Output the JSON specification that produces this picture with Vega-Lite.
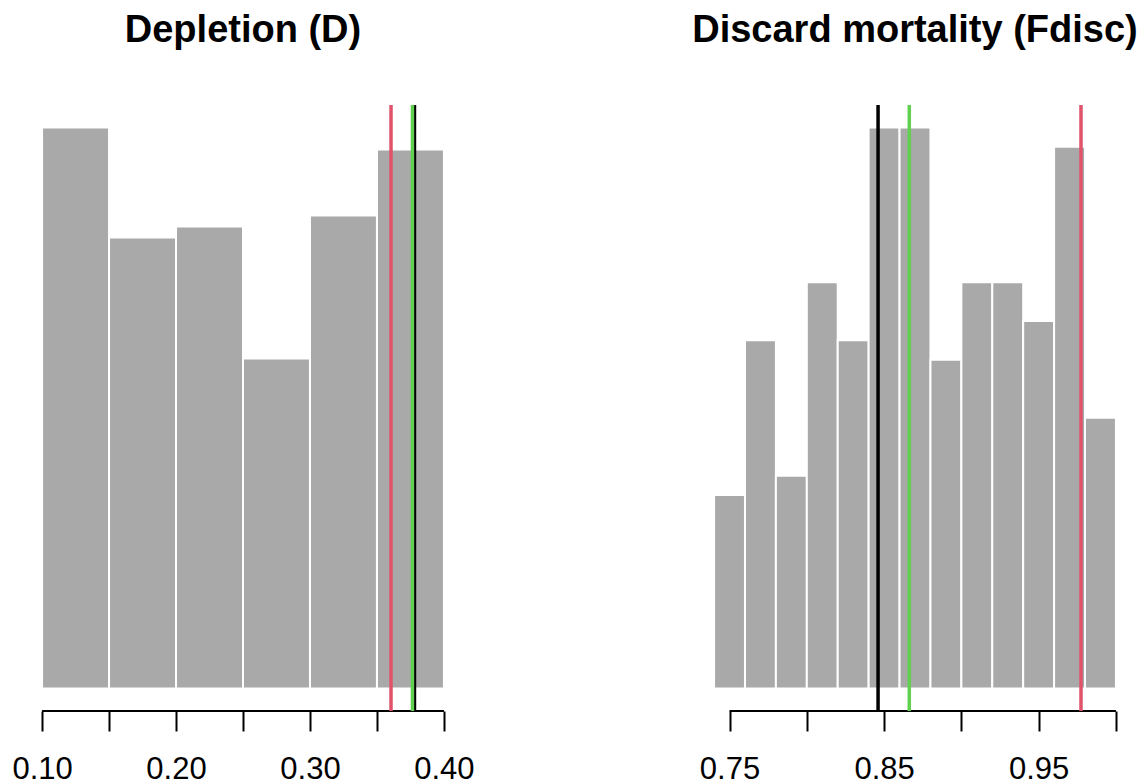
{
  "$schema": "https://vega.github.io/schema/vega-lite/v6.json",
  "background": "white",
  "padding": {"left": 11, "top": 12, "right": 0, "bottom": 0},
  "datasets": {
    "depletion_bins": [
      {"bin_start": 0.10, "bin_end": 0.15, "count": 51},
      {"bin_start": 0.15, "bin_end": 0.20, "count": 41},
      {"bin_start": 0.20, "bin_end": 0.25, "count": 42},
      {"bin_start": 0.25, "bin_end": 0.30, "count": 30},
      {"bin_start": 0.30, "bin_end": 0.35, "count": 43},
      {"bin_start": 0.35, "bin_end": 0.40, "count": 49}
    ],
    "depletion_lines": [
      {"value": 0.378, "series": "true"},
      {"value": 0.3605, "series": "estimate"},
      {"value": 0.3765, "series": "prior"}
    ],
    "depletion_axis": [{"first_tick": 0.10, "last_tick": 0.40}],
    "fdisc_bins": [
      {"bin_start": 0.74, "bin_end": 0.76, "count": 10},
      {"bin_start": 0.76, "bin_end": 0.78, "count": 18},
      {"bin_start": 0.78, "bin_end": 0.80, "count": 11},
      {"bin_start": 0.80, "bin_end": 0.82, "count": 21},
      {"bin_start": 0.82, "bin_end": 0.84, "count": 18},
      {"bin_start": 0.84, "bin_end": 0.86, "count": 29},
      {"bin_start": 0.86, "bin_end": 0.88, "count": 29},
      {"bin_start": 0.88, "bin_end": 0.90, "count": 17},
      {"bin_start": 0.90, "bin_end": 0.92, "count": 21},
      {"bin_start": 0.92, "bin_end": 0.94, "count": 21},
      {"bin_start": 0.94, "bin_end": 0.96, "count": 19},
      {"bin_start": 0.96, "bin_end": 0.98, "count": 28},
      {"bin_start": 0.98, "bin_end": 1.00, "count": 14}
    ],
    "fdisc_lines": [
      {"value": 0.8461, "series": "true"},
      {"value": 0.9774, "series": "estimate"},
      {"value": 0.8663, "series": "prior"}
    ],
    "fdisc_axis": [{"first_tick": 0.75, "last_tick": 1.00}]
  },
  "hconcat": [
    {
      "width": 434,
      "height": 606,
      "title": {"text": "Depletion (D)"},
      "layer": [
        {
          "data": {"name": "depletion_bins"},
          "mark": {"type": "bar", "fill": "#A9A9A9", "stroke": "white", "strokeWidth": 2},
          "encoding": {
            "x": {
              "field": "bin_start",
              "type": "quantitative",
              "scale": {"domain": [0.088, 0.412], "nice": false, "zero": false},
              "axis": {
                "values": [0.10, 0.15, 0.20, 0.25, 0.30, 0.35, 0.40],
                "labelExpr": "round(datum.value * 100) % 10 == 0 ? format(datum.value, '.2f') : ''"
              }
            },
            "x2": {"field": "bin_end"},
            "y": {
              "field": "count",
              "type": "quantitative",
              "scale": {"domain": [-2.04, 53.04], "nice": false, "zero": false},
              "axis": null
            },
            "y2": {"datum": 0}
          }
        },
        {
          "data": {"name": "depletion_axis"},
          "mark": {"type": "rule", "color": "black", "strokeWidth": 2},
          "encoding": {
            "x": {"field": "first_tick", "type": "quantitative"},
            "x2": {"field": "last_tick"},
            "y": {"datum": -2.04, "type": "quantitative"}
          }
        },
        {
          "data": {"name": "depletion_lines"},
          "mark": {"type": "rule", "strokeWidth": 3.5},
          "encoding": {
            "x": {"field": "value", "type": "quantitative"},
            "color": {
              "field": "series",
              "type": "nominal",
              "scale": {"domain": ["true", "estimate", "prior"], "range": ["#000000", "#DF536B", "#61D04F"]},
              "legend": null
            }
          }
        }
      ]
    },
    {
      "width": 434,
      "height": 606,
      "title": {"text": "Discard mortality (Fdisc)"},
      "layer": [
        {
          "data": {"name": "fdisc_bins"},
          "mark": {"type": "bar", "fill": "#A9A9A9", "stroke": "white", "strokeWidth": 2},
          "encoding": {
            "x": {
              "field": "bin_start",
              "type": "quantitative",
              "scale": {"domain": [0.7296, 1.0104], "nice": false, "zero": false},
              "axis": {
                "values": [0.75, 0.80, 0.85, 0.90, 0.95, 1.00],
                "labelExpr": "round(datum.value * 100) % 10 == 5 ? format(datum.value, '.2f') : ''"
              }
            },
            "x2": {"field": "bin_end"},
            "y": {
              "field": "count",
              "type": "quantitative",
              "scale": {"domain": [-1.16, 30.16], "nice": false, "zero": false},
              "axis": null
            },
            "y2": {"datum": 0}
          }
        },
        {
          "data": {"name": "fdisc_axis"},
          "mark": {"type": "rule", "color": "black", "strokeWidth": 2},
          "encoding": {
            "x": {"field": "first_tick", "type": "quantitative"},
            "x2": {"field": "last_tick"},
            "y": {"datum": -1.16, "type": "quantitative"}
          }
        },
        {
          "data": {"name": "fdisc_lines"},
          "mark": {"type": "rule", "strokeWidth": 3.5},
          "encoding": {
            "x": {"field": "value", "type": "quantitative"},
            "color": {
              "field": "series",
              "type": "nominal",
              "scale": {"domain": ["true", "estimate", "prior"], "range": ["#000000", "#DF536B", "#61D04F"]},
              "legend": null
            }
          }
        }
      ]
    }
  ],
  "spacing": 238,
  "bounds": "flush",
  "resolve": {"scale": {"x": "independent", "y": "independent"}},
  "config": {
    "font": "Liberation Sans",
    "view": {"stroke": null},
    "title": {
      "font": "Liberation Sans",
      "fontSize": 38,
      "fontWeight": "bold",
      "color": "black",
      "anchor": "middle",
      "frame": "group",
      "baseline": "alphabetic",
      "offset": 53
    },
    "axisX": {
      "domain": false,
      "grid": false,
      "ticks": true,
      "tickColor": "black",
      "tickWidth": 2,
      "tickSize": 20,
      "labelFont": "Liberation Sans",
      "labelFontSize": 31,
      "labelColor": "black",
      "labelPadding": 23.5,
      "labelFlush": false,
      "labelOverlap": false,
      "title": null
    }
  }
}
